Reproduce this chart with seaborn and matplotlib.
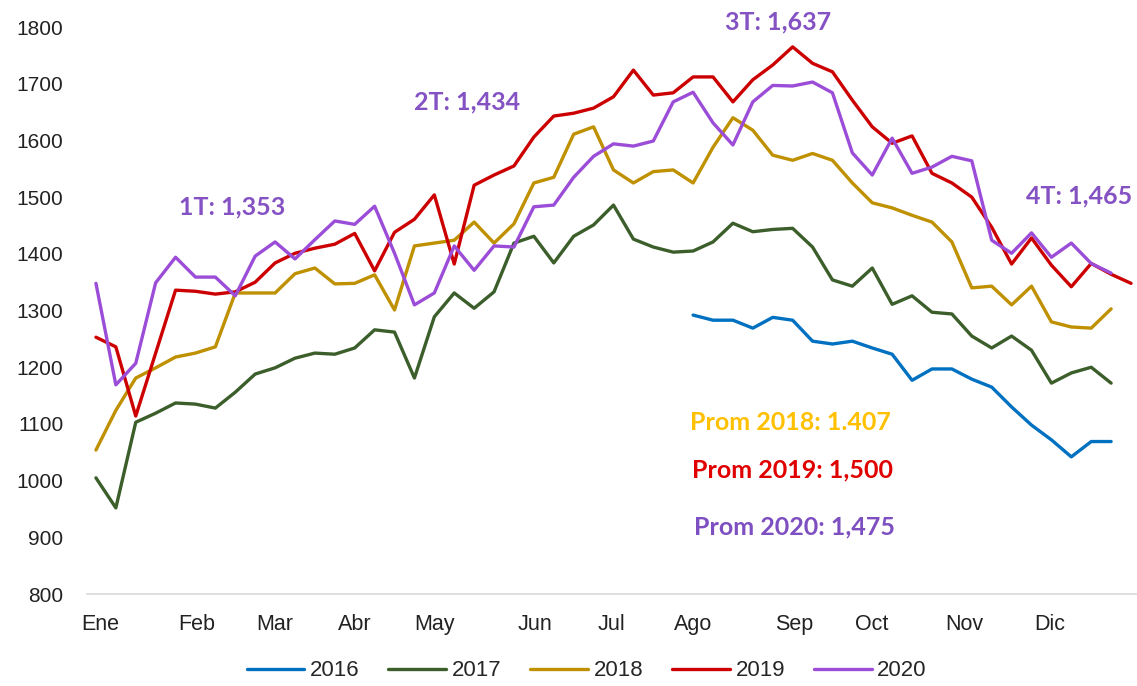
import numpy as np
import pandas as pd
import seaborn as sns
import matplotlib.pyplot as plt

# weekly values, week index 0..52
weeks = list(range(53))

v2016 = [np.nan] * 30 + [1292, 1283, 1283, 1269, 1288, 1283, 1246, 1241, 1246, 1234,
                         1223, 1177, 1197, 1197, 1179, 1165, 1130, 1098, 1072, 1042,
                         1069, 1069, np.nan]
v2017 = [1005, 952, 1103, 1119, 1137, 1135, 1128, 1156, 1188, 1199,
         1216, 1225, 1223, 1234, 1266, 1262, 1181, 1289, 1331, 1304,
         1333, 1419, 1431, 1384, 1431, 1451, 1486, 1426, 1412, 1403,
         1405, 1421, 1454, 1439, 1443, 1445, 1412, 1354, 1343, 1375,
         1311, 1326, 1297, 1294, 1255, 1234, 1255, 1230, 1172, 1190,
         1200, 1172, np.nan]
v2018 = [1054, 1124, 1181, 1199, 1218, 1225, 1236, 1331, 1331, 1331,
         1365, 1375, 1347, 1348, 1363, 1301, 1414, 1419, 1424, 1456,
         1419, 1453, 1525, 1535, 1611, 1624, 1548, 1525, 1545, 1548,
         1525, 1588, 1640, 1618, 1574, 1565, 1577, 1565, 1525, 1490,
         1481, 1468, 1456, 1421, 1340, 1343, 1310, 1343, 1280, 1271,
         1269, 1303, np.nan]
v2019 = [1253, 1236, 1114, 1225, 1336, 1334, 1329, 1333, 1350, 1384,
         1401, 1410, 1417, 1436, 1370, 1438, 1461, 1504, 1382, 1521,
         1539, 1555, 1606, 1643, 1648, 1657, 1677, 1724, 1680, 1684,
         1712, 1712, 1668, 1707, 1733, 1765, 1736, 1721, 1671, 1624,
         1595, 1608, 1542, 1525, 1500, 1447, 1382, 1428, 1380, 1342,
         1383, 1364, 1348]
v2020 = [1348, 1169, 1207, 1349, 1394, 1359, 1359, 1326, 1396, 1421,
         1391, 1425, 1458, 1452, 1484, 1401, 1310, 1331, 1414, 1371,
         1414, 1412, 1483, 1486, 1535, 1572, 1594, 1590, 1599, 1668,
         1685, 1631, 1592, 1668, 1697, 1696, 1703, 1684, 1578, 1539,
         1604, 1542, 1553, 1572, 1564, 1424, 1401, 1437, 1394, 1419,
         1383, 1366, np.nan]

years = ['2016', '2017', '2018', '2019', '2020']
colors = {'2016': '#0070C0', '2017': '#3B5E2B', '2018': '#BF9000',
          '2019': '#CC0000', '2020': '#9B4DD8'}

month_labels = ['Ene', 'Feb', 'Mar', 'Abr', 'May', 'Jun', 'Jul', 'Ago',
                'Sep', 'Oct', 'Nov', 'Dic']
month_pos = [0.2, 5.07, 9.0, 13.0, 17.0, 22.05, 25.9, 30.0, 35.1, 38.95, 43.6, 47.9]

quarter_labels = ['1T: 1,353', '2T: 1,434', '3T: 1,637', '4T: 1,465']
quarter_pos = [(4.15, 1483), (16.0, 1668), (31.6, 1809), (46.7, 1502)]

prom_labels = ['Prom 2018: 1.407', 'Prom 2019: 1,500', 'Prom 2020: 1,475']
prom_colors = ['#FFC000', '#E00000', '#7E4FC0']
prom_pos = [(29.85, 1102), (29.95, 1019), (30.05, 918)]

df = pd.DataFrame({'week': weeks * 5,
                   'value': v2016 + v2017 + v2018 + v2019 + v2020,
                   'year': [y for y in years for _ in weeks]}).dropna()

sns.set_style('white')
plt.rcParams['font.family'] = ['Liberation Sans', 'DejaVu Sans']

fig = plt.figure(figsize=(11.37, 6.86), dpi=100)
ax = fig.add_axes([0.0765, 0.134, 0.9235, 0.8266])

sns.lineplot(data=df, x='week', y='value', hue='year', palette=colors,
             linewidth=2.4, ax=ax)

ax.set_xlim(-0.45, 52.3)
ax.set_ylim(800, 1800)
ax.set_yticks(range(800, 1801, 100))
ax.set_xticks(month_pos)
ax.set_xticklabels(month_labels)
ax.tick_params(axis='y', length=0, pad=17, labelsize=15, labelcolor='#222222')
ax.tick_params(axis='x', length=0, pad=14, labelsize=15.5, labelcolor='#222222')
ax.set_xlabel('')
ax.set_ylabel('')
for s in ['left', 'top', 'right']:
    ax.spines[s].set_visible(False)
ax.spines['bottom'].set_color('#D9D9D9')
ax.spines['bottom'].set_linewidth(1.2)

for txt, (x, y) in zip(quarter_labels, quarter_pos):
    ax.text(x, y, txt, color='#8552C4', fontsize=18, fontweight='bold',
            family='Lato', ha='left', va='center', clip_on=False)
for txt, c, (x, y) in zip(prom_labels, prom_colors, prom_pos):
    ax.text(x, y, txt, color=c, fontsize=18, fontweight='bold',
            family='Lato', ha='left', va='center')

handles, labels = ax.get_legend_handles_labels()
ax.get_legend().remove()
fig.legend(handles, labels, loc='center', bbox_to_anchor=(0.516, 0.022), ncol=5,
           frameon=False, fontsize=16, handlelength=2.6, handletextpad=0.25,
           columnspacing=1.3)

fig.savefig('out.png', dpi=100)
